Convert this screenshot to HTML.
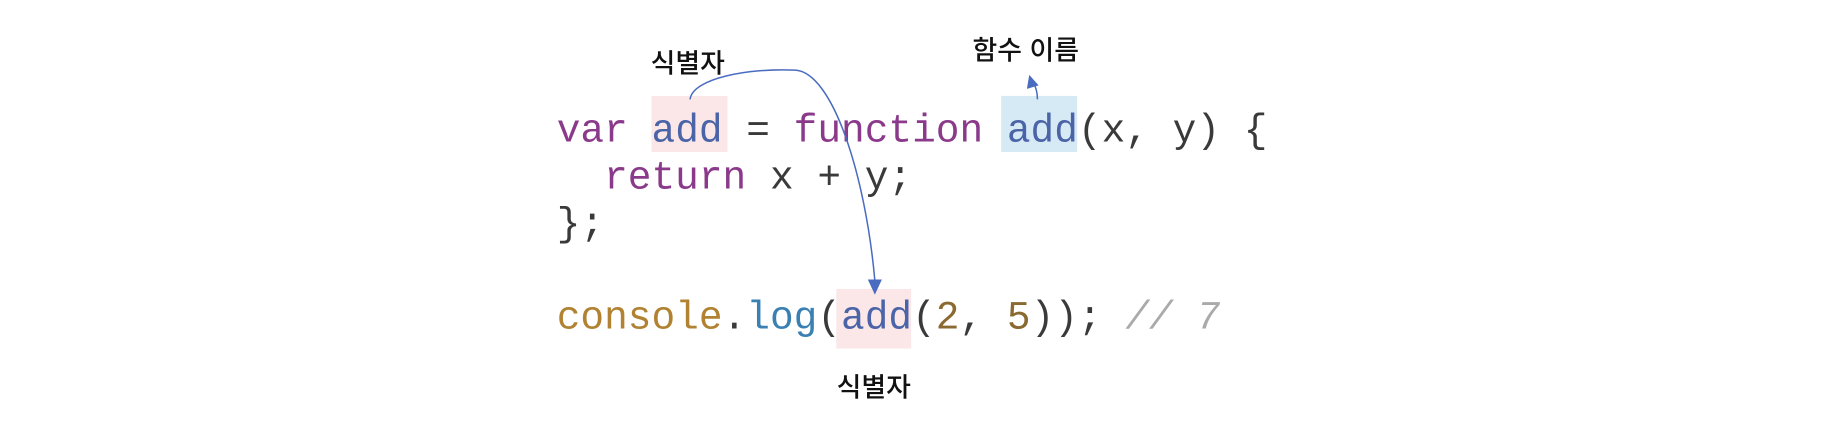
<!DOCTYPE html>
<html><head><meta charset="utf-8"><style>
html,body{margin:0;padding:0;background:#fff;}
body{width:1834px;height:426px;position:relative;overflow:hidden;}
#w{position:absolute;left:0;top:0;width:1568px;height:364px;transform:scale(1.1696);transform-origin:0 0;}
.code{position:absolute;left:476px;top:93px;font-family:"Liberation Mono",monospace;font-size:33.75px;line-height:40px;white-space:pre;color:#3a3a3a;}
.k{color:#8b3a8b}.b{color:#4b64a8}.c{color:#b08232}.l{color:#3a80b3}.n{color:#8a6a30}.cm{color:#aaa;font-style:italic}
.hl{position:absolute;}
.lab{position:absolute;font-family:"Liberation Sans","Noto Sans CJK KR",sans-serif;font-size:23px;font-weight:500;color:#111;transform:translateX(-50%);white-space:nowrap;}
</style></head><body><div id="w">
<div class="hl" style="left:557px;top:82px;width:65px;height:48px;background:#fbe7e7"></div>
<div class="hl" style="left:856px;top:82px;width:65px;height:48px;background:#d6eaf6"></div>
<div class="hl" style="left:715px;top:247px;width:64px;height:51px;background:#fbe7e7"></div>
<div class="code"><span class="k">var</span> <span class="b">add</span> = <span class="k">function</span> <span class="b">add</span>(x, y) {
  <span class="k">return</span> x + y;
};

<span class="c">console</span>.<span class="l">log</span>(<span class="b">add</span>(<span class="n">2</span>, <span class="n">5</span>)); <span class="cm">// 7</span></div>
<svg width="1568" height="364" style="position:absolute;left:0;top:0">
<path d="M590,85 C592,67 640,58 680,60 C712,62 740,150 748,240" fill="none" stroke="#4a6cc0" stroke-width="1.3"/>
<polygon points="742,239 754,239 748,252" fill="#4a6cc0"/>
<path d="M887,85 C887,78 885,73 883,70" fill="none" stroke="#4a6cc0" stroke-width="1.3"/>
<polygon points="878,76 888,73 880,64" fill="#4a6cc0"/>
</svg>
<div class="lab" style="left:588px;top:35px">식별자</div>
<div class="lab" style="left:877px;top:24px">함수 이름</div>
<div class="lab" style="left:747px;top:312px">식별자</div>
</div></body></html>
